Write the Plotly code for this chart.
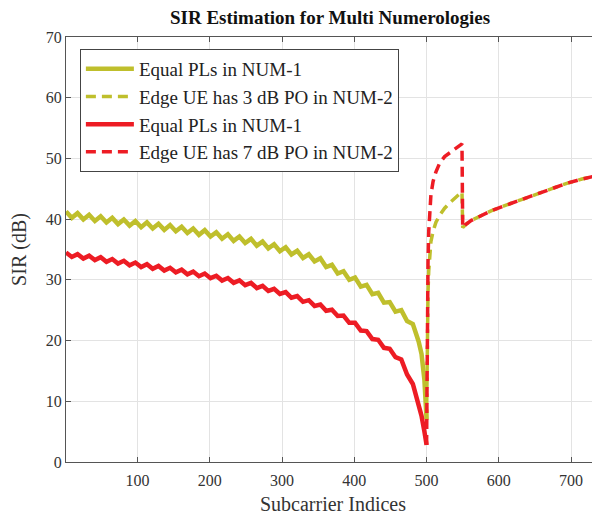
import plotly.graph_objects as go

# NUM-1 subcarriers (solid curves)
num1_x = [1, 9, 17, 25, 33, 41, 49, 57, 65, 73, 81, 89, 97, 105, 113, 121, 129, 137, 145, 153,
          161, 169, 177, 185, 193, 201, 209, 217, 225, 233, 241, 249, 257, 265, 273, 281, 289, 297,
          305, 313, 321, 329, 337, 345, 353, 361, 369, 377, 385, 393, 401, 409, 417, 425, 433, 441,
          449, 457, 465, 473, 481, 489, 493, 497, 500]
yel_num1 = [41.25, 40.22, 40.99, 39.96, 40.73, 39.70, 40.47, 39.44, 40.21, 39.18, 39.95, 38.93, 39.70,
            38.68, 39.47, 38.46, 39.24, 38.23, 39.02, 38.00, 38.75, 37.71, 38.46, 37.42, 38.18, 37.13,
            37.85, 36.78, 37.50, 36.42, 37.15, 36.07, 36.75, 35.63, 36.31, 35.18, 35.86, 34.73, 35.37,
            34.18, 34.79, 33.61, 34.22, 33.03, 33.55, 32.11, 32.48, 31.05, 31.43, 30.01, 30.38, 28.88,
            29.18, 27.63, 27.85, 26.25, 26.35, 24.77, 25.02, 23.21, 22.71, 19.85, 17.8, 13.5, 7.0]
red_num1 = [34.50, 33.77, 34.24, 33.51, 33.98, 33.25, 33.72, 32.97, 33.43, 32.69, 33.14, 32.40, 32.85,
            32.11, 32.57, 31.82, 32.28, 31.53, 31.99, 31.24, 31.68, 30.92, 31.36, 30.60, 31.04, 30.28,
            30.68, 29.89, 30.30, 29.51, 29.92, 29.12, 29.49, 28.65, 29.01, 28.17, 28.53, 27.69, 27.99,
            27.05, 27.32, 26.38, 26.65, 25.71, 25.94, 24.91, 25.08, 24.06, 24.13, 22.93, 22.92, 21.64,
            21.56, 20.25, 20.13, 18.81, 18.66, 17.26, 16.90, 14.41, 12.85, 9.44, 7.6, 5.0, 2.8]

# NUM-2 subcarriers (dashed curves)
num2_x = [500, 501, 502, 503, 504, 506, 509, 513, 518, 525, 533, 541, 549, 550,
          555, 562, 574, 590, 610, 635, 657, 675, 694, 715, 740]
yel_num2 = [7.0, 22.0, 28.0, 31.5, 33.8, 36.3, 38.0, 39.5, 40.6, 41.8, 42.8, 43.7, 44.5, 38.6,
            39.2, 39.8, 40.5, 41.4, 42.3, 43.4, 44.3, 45.1, 45.9, 46.6, 47.3]
red_num2 = [2.8, 25.0, 33.0, 38.0, 41.0, 44.0, 46.2, 47.8, 49.2, 50.3, 51.0, 51.7, 52.4, 38.6,
            39.2, 39.8, 40.5, 41.4, 42.3, 43.4, 44.3, 45.1, 45.9, 46.6, 47.3]

names = ["Equal PLs in NUM-1", "Edge UE has 3 dB PO in NUM-2",
         "Equal PLs in NUM-1", "Edge UE has 7 dB PO in NUM-2"]
x_ticks = [100, 200, 300, 400, 500, 600, 700]
y_ticks = [0, 10, 20, 30, 40, 50, 60, 70]

YEL = "rgb(191,191,44)"
RED = "rgb(237,28,36)"
FONT = "Liberation Serif"

fig = go.Figure()
fig.add_trace(go.Scatter(x=num1_x, y=yel_num1, mode="lines", name=names[0],
                         line=dict(color=YEL, width=4.5)))
fig.add_trace(go.Scatter(x=num2_x, y=yel_num2, mode="lines", name=names[1],
                         line=dict(color=YEL, width=3.5, dash="10px,6px")))
fig.add_trace(go.Scatter(x=num1_x, y=red_num1, mode="lines", name=names[2],
                         line=dict(color=RED, width=4.5)))
fig.add_trace(go.Scatter(x=num2_x, y=red_num2, mode="lines", name=names[3],
                         line=dict(color=RED, width=3.5, dash="10px,6px")))

axis_common = dict(
    showgrid=True, gridcolor="#E3E3E3", gridwidth=1,
    showline=True, linecolor="#555555", linewidth=1,
    ticks="inside", ticklen=5, tickcolor="#555555",
    zeroline=False, tickfont=dict(family=FONT, size=16, color="#333333"),
    automargin=False,
)

# page body has an 8px margin, so the figure is offset by 8px
fig.update_layout(
    width=592, height=512,
    margin=dict(l=58, r=0, t=29, b=58),
    paper_bgcolor="white", plot_bgcolor="white",
    title=dict(text="<b>SIR Estimation for Multi Numerologies</b>",
               font=dict(family=FONT, size=19, color="#111111"),
               x=0.544, xanchor="center", y=1.0, yanchor="top", pad=dict(t=3, b=0)),
    xaxis=dict(range=[1, 740], tickvals=x_ticks, mirror="ticks", ticklabelstandoff=4,
               title=dict(text="Subcarrier Indices", font=dict(family=FONT, size=20, color="#333333"),
                          standoff=8),
               **axis_common),
    yaxis=dict(range=[0, 70], tickvals=y_ticks,
               title=dict(text="SIR (dB)", font=dict(family=FONT, size=20, color="#333333"),
                          standoff=13),
               **axis_common),
    legend=dict(x=0.026, y=0.972, xanchor="left", yanchor="top",
                bgcolor="white", bordercolor="#444444", borderwidth=1,
                font=dict(family=FONT, size=19, color="#222222"),
                itemwidth=48, tracegroupgap=0),
    showlegend=True,
)

fig.write_html("out.html")
